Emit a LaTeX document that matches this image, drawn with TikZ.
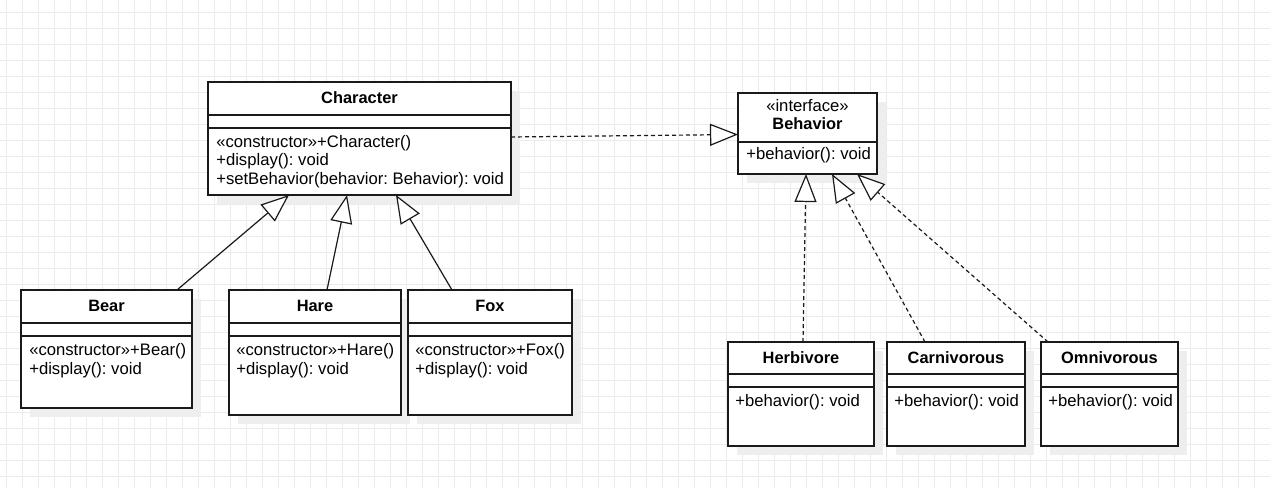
\documentclass[tikz,border=0pt]{standalone}
\usepackage{fontspec}
\setmainfont{Liberation Sans}
\usetikzlibrary{arrows.meta,shadows,calc}
\definecolor{gridc}{HTML}{EBEBEB}
\definecolor{shad}{HTML}{EEEEEE}
\definecolor{edge}{HTML}{1A1A1A}
\frenchspacing
\begin{document}
\begin{tikzpicture}[x=0.75pt,y=-0.75pt,
  cls/.style={draw=edge, line width=0.9pt, fill=white, anchor=north west, inner sep=0pt, outer sep=0pt,
    drop shadow={shadow xshift=6.75pt, shadow yshift=-6.75pt, fill=shad, opacity=1}},
  sep/.style={draw=edge, line width=0.9pt},
  title/.style={anchor=base, inner sep=0pt, font=\fontsize{12.3pt}{14pt}\selectfont\bfseries},
  stereo/.style={anchor=base, inner sep=0pt, font=\fontsize{12.5pt}{15pt}\selectfont},
  meth/.style={anchor=base west, inner sep=0pt, font=\fontsize{12.5pt}{15pt}\selectfont},
  inh/.style={draw=edge, line width=0.9pt, -{Triangle[length=21pt, width=16.5pt, fill=white, line width=0.9pt]}},
  real/.style={inh, dash pattern=on 3pt off 2.25pt}
]
\useasboundingbox (0,0) rectangle (1270,488);
\fill[white] (0,0) rectangle (1270,488);
\foreach \i in {0,...,78} \draw[gridc, line width=0.75pt] (6.5+16*\i,0) -- (6.5+16*\i,488);
\foreach \j in {0,...,29} \draw[gridc, line width=0.75pt] (0,12.3+16*\j) -- (1270,12.3+16*\j);

% Character
\node[cls, minimum width=303*0.75pt, minimum height=113*0.75pt] (char) at (208,82) {};
\draw[sep] ($(char.north west)+(0,33)$) -- ($(char.north east)+(0,33)$);
\draw[sep] ($(char.north west)+(0,46)$) -- ($(char.north east)+(0,46)$);
\node[title] (chart) at ($(char.north)+(0,22)$) {Character};
\node[meth] (charm1) at ($(char.north west)+(8,65.5)$) {«constructor»+Character()};
\node[meth] (charm2) at ($(char.north west)+(8,84)$) {+display(): void};
\node[meth] (charm3) at ($(char.north west)+(8,102.5)$) {+setBehavior(behavior: Behavior): void};

% Bear
\node[cls, minimum width=171*0.75pt, minimum height=118*0.75pt] (bear) at (21,290) {};
\draw[sep] ($(bear.north west)+(0,33)$) -- ($(bear.north east)+(0,33)$);
\draw[sep] ($(bear.north west)+(0,46)$) -- ($(bear.north east)+(0,46)$);
\node[title] (beart) at ($(bear.north)+(0,21.7)$) {Bear};
\node[meth] (bearm1) at ($(bear.north west)+(8,65.5)$) {«constructor»+Bear()};
\node[meth] (bearm2) at ($(bear.north west)+(8,84)$) {+display(): void};

% Hare
\node[cls, minimum width=172*0.75pt, minimum height=125*0.75pt] (hare) at (229,290) {};
\draw[sep] ($(hare.north west)+(0,33)$) -- ($(hare.north east)+(0,33)$);
\draw[sep] ($(hare.north west)+(0,46)$) -- ($(hare.north east)+(0,46)$);
\node[title] (haret) at ($(hare.north)+(0,21.7)$) {Hare};
\node[meth] (harem1) at ($(hare.north west)+(7,65.5)$) {«constructor»+Hare()};
\node[meth] (harem2) at ($(hare.north west)+(7,84)$) {+display(): void};

% Fox
\node[cls, minimum width=164*0.75pt, minimum height=125*0.75pt] (fox) at (408,290) {};
\draw[sep] ($(fox.north west)+(0,33)$) -- ($(fox.north east)+(0,33)$);
\draw[sep] ($(fox.north west)+(0,46)$) -- ($(fox.north east)+(0,46)$);
\node[title] (foxt) at ($(fox.north)+(0,21.7)$) {Fox};
\node[meth] (foxm1) at ($(fox.north west)+(7,65.5)$) {«constructor»+Fox()};
\node[meth] (foxm2) at ($(fox.north west)+(7,84)$) {+display(): void};

% Behavior
\node[cls, minimum width=139*0.75pt, minimum height=81*0.75pt] (beh) at (738,93) {};
\draw[sep] ($(beh.north west)+(0,49)$) -- ($(beh.north east)+(0,49)$);
\node[stereo] (behs) at ($(beh.north)+(0,18.7)$) {«interface»};
\node[title] (beht) at ($(beh.north)+(0,37)$) {Behavior};
\node[meth] (behm) at ($(beh.north west)+(8,67)$) {+behavior(): void};

% Herbivore
\node[cls, minimum width=146*0.75pt, minimum height=104*0.75pt] (herb) at (728,342) {};
\draw[sep] ($(herb.north west)+(0,32)$) -- ($(herb.north east)+(0,32)$);
\draw[sep] ($(herb.north west)+(0,45)$) -- ($(herb.north east)+(0,45)$);
\node[title] (herbt) at ($(herb.north)+(0,21.3)$) {Herbivore};
\node[meth] (herbm) at ($(herb.north west)+(7,64.5)$) {+behavior(): void};

% Carnivorous
\node[cls, minimum width=138*0.75pt, minimum height=104*0.75pt] (carn) at (887,342) {};
\draw[sep] ($(carn.north west)+(0,32)$) -- ($(carn.north east)+(0,32)$);
\draw[sep] ($(carn.north west)+(0,45)$) -- ($(carn.north east)+(0,45)$);
\node[title] (carnt) at ($(carn.north)+(0,21.3)$) {Carnivorous};
\node[meth] (carnm) at ($(carn.north west)+(7,64.5)$) {+behavior(): void};

% Omnivorous
\node[cls, minimum width=137*0.75pt, minimum height=104*0.75pt] (omni) at (1041,342) {};
\draw[sep] ($(omni.north west)+(0,32)$) -- ($(omni.north east)+(0,32)$);
\draw[sep] ($(omni.north west)+(0,45)$) -- ($(omni.north east)+(0,45)$);
\node[title] (omnit) at ($(omni.north)+(0,21.3)$) {Omnivorous};
\node[meth] (omnim) at ($(omni.north west)+(7,64.5)$) {+behavior(): void};

% Connectors
\draw[inh] ($(bear.north west)+(156,0)$) -- ($(char.south west)+(81,0)$);
\draw[inh] ($(hare.north west)+(98,0)$) -- ($(char.south west)+(139,0)$);
\draw[inh] ($(fox.north west)+(44,0)$) -- ($(char.south west)+(188,0)$);
\draw[real] ($(char.north east)+(0,55)$) -- ($(beh.north west)+(0,41.5)$);
\draw[real] ($(herb.north west)+(75,0)$) -- ($(beh.south west)+(68,0)$);
\draw[real] ($(carn.north west)+(38,0)$) -- ($(beh.south west)+(94,0)$);
\draw[real] ($(omni.north west)+(7,0)$) -- ($(beh.south west)+(119,0)$);
\end{tikzpicture}
\end{document}
